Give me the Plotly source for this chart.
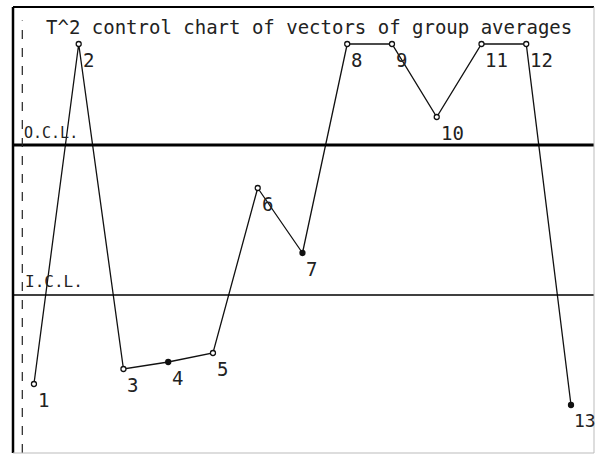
import plotly.graph_objects as go

# T^2 statistic for each group (vectors of group averages)
groups = list(range(1, 14))
t2_values = [3.45, 20.45, 4.2, 4.55, 5.0, 13.25, 10.0, 20.45, 20.45, 16.8, 20.45, 20.45, 2.4]
point_labels = [str(g) for g in groups]

# control limits
ocl = 15.4   # outer control limit
icl = 7.9    # inner control limit

title_text = "T^2 control chart of vectors of group averages"
ocl_label = "O.C.L."
icl_label = "I.C.L."

W, H = 595, 454
ML, MR, MT, MB = 13, 1, 7, 1

# a few of the plotted points are drawn as solid dots
marker_fill = ["white"] * 13
for i in (3, 6, 12):
    marker_fill[i] = "#111111"

fig = go.Figure()

fig.add_trace(go.Scatter(
    x=groups, y=t2_values,
    mode="lines+markers",
    line=dict(color="#111111", width=1.3),
    marker=dict(size=5, color=marker_fill, line=dict(color="#111111", width=1.3)),
    showlegend=False, hoverinfo="skip",
))

# point numbers, set below-right of each point
for g, v, lab in zip(groups, t2_values, point_labels):
    fig.add_annotation(
        x=g, y=v, text=lab, showarrow=False,
        xanchor="left", yanchor="top", xshift=1 if g == 13 else 2, yshift=-3,
        font=dict(family="DejaVu Sans Mono, monospace", size=18 if g == 13 else 19,
                  color="#222222"),
    )

# control limit lines
fig.add_shape(type="line", xref="paper", x0=0, x1=1, yref="y", y0=ocl, y1=ocl,
              line=dict(color="#000000", width=3))
fig.add_shape(type="line", xref="paper", x0=0, x1=1, yref="y", y0=icl, y1=icl,
              line=dict(color="#000000", width=1.3))

fig.add_annotation(xref="paper", x=0.016, y=ocl, yref="y", text=ocl_label, showarrow=False,
                   xanchor="left", yanchor="bottom", yshift=1,
                   font=dict(family="DejaVu Sans Mono, monospace", size=15, color="#222222"))
fig.add_annotation(xref="paper", x=0.018, y=icl, yref="y", text=icl_label, showarrow=False,
                   xanchor="left", yanchor="bottom", yshift=2,
                   font=dict(family="DejaVu Sans Mono, monospace", size=16, color="#222222"))

# dashed inner frame line near the left border
fig.add_shape(type="line", xref="paper", yref="paper", x0=0.016, x1=0.016, y0=0, y1=0.97,
              line=dict(color="#222222", width=1.2, dash="dash"))

# frame: heavy left and top, faint right and bottom
fig.add_shape(type="line", xref="paper", yref="paper", x0=0, x1=0, y0=0, y1=1,
              line=dict(color="#000000", width=2.5))
fig.add_shape(type="line", xref="paper", yref="paper", x0=0, x1=1, y0=1, y1=1,
              line=dict(color="#000000", width=2))
fig.add_shape(type="line", xref="paper", yref="paper", x0=1, x1=1, y0=0, y1=1,
              line=dict(color="#bbbbbb", width=1))
fig.add_shape(type="line", xref="paper", yref="paper", x0=0, x1=1, y0=0, y1=0,
              line=dict(color="#bbbbbb", width=1))

fig.add_annotation(xref="paper", yref="paper", x=0.51, y=0.985, text=title_text,
                   showarrow=False, xanchor="center", yanchor="top",
                   font=dict(family="DejaVu Sans Mono, monospace", size=19, color="#222222"))

fig.update_xaxes(range=[0.532, 13.514], visible=False, showgrid=False, zeroline=False)
fig.update_yaxes(range=[0, 22.3], visible=False, showgrid=False, zeroline=False)

fig.update_layout(
    width=W, height=H,
    margin=dict(l=ML, r=MR, t=MT, b=MB),
    paper_bgcolor="white", plot_bgcolor="white",
)

fig.write_html("out.html")
